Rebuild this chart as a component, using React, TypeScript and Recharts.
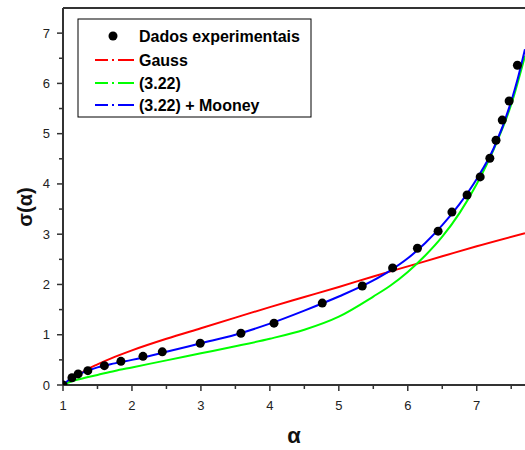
import React from 'react';
import { ComposedChart, Line, Scatter, XAxis, YAxis, ReferenceLine } from 'recharts';

// Experimental data (alpha, sigma)
const expAlpha = [1, 1.13, 1.22, 1.36, 1.6, 1.84, 2.16, 2.44, 2.99, 3.58, 4.06, 4.76, 5.34, 5.78, 6.14, 6.44, 6.64, 6.86, 7.05, 7.19, 7.28, 7.37, 7.47, 7.59];
const expSigma = [0, 0.145, 0.22, 0.285, 0.385, 0.47, 0.57, 0.66, 0.83, 1.03, 1.23, 1.63, 1.97, 2.33, 2.72, 3.06, 3.44, 3.78, 4.14, 4.51, 4.87, 5.27, 5.65, 6.36];

// Gauss curve
const gaussAlpha = [1, 1.1, 1.2, 1.35, 1.5, 1.75, 2, 2.5, 3, 3.5, 4, 4.5, 5, 5.5, 6, 6.5, 7, 7.7];
const gaussSigma = [0, 0.09, 0.18, 0.31, 0.41, 0.56, 0.69, 0.92, 1.13, 1.34, 1.55, 1.75, 1.95, 2.16, 2.36, 2.56, 2.76, 3.02];

// (3.22) curve
const eqAlpha = [1, 1.1, 1.25, 1.5, 1.75, 2, 2.5, 3, 3.5, 4, 4.5, 5, 5.5, 5.75, 6, 6.25, 6.5, 6.75, 7, 7.25, 7.5, 7.7];
const eqSigma = [0, 0.06, 0.12, 0.2, 0.28, 0.35, 0.49, 0.63, 0.77, 0.92, 1.1, 1.36, 1.76, 1.98, 2.25, 2.57, 2.95, 3.42, 4.0, 4.7, 5.58, 6.55];

// (3.22) + Mooney curve
const mooAlpha = [1, 1.1, 1.2, 1.35, 1.5, 1.75, 2, 2.5, 3, 3.5, 4, 4.5, 5, 5.5, 5.75, 6, 6.25, 6.5, 6.75, 7, 7.25, 7.5, 7.6, 7.7];
const mooSigma = [0, 0.12, 0.2, 0.28, 0.35, 0.43, 0.5, 0.66, 0.83, 1.0, 1.22, 1.48, 1.76, 2.08, 2.28, 2.52, 2.82, 3.18, 3.6, 4.1, 4.72, 5.64, 6.12, 6.68];

const xTicks = [1, 1.5, 2, 2.5, 3, 3.5, 4, 4.5, 5, 5.5, 6, 6.5, 7, 7.5];
const yTicks = [0, 0.5, 1, 1.5, 2, 2.5, 3, 3.5, 4, 4.5, 5, 5.5, 6, 6.5, 7];

const legendLabels = ['Dados experimentais', 'Gauss', '(3.22)', '(3.22) + Mooney'];
const legendColors = ['#000000', '#ff0000', '#00ff00', '#0000ff'];

const zip = (a: number[], b: number[]) => a.map((x, i) => ({ x, y: b[i] }));
const expData = zip(expAlpha, expSigma);
const gaussData = zip(gaussAlpha, gaussSigma);
const eqData = zip(eqAlpha, eqSigma);
const mooData = zip(mooAlpha, mooSigma);

const FONT = 'Liberation Sans, Arial, sans-serif';

const XTick = (props: any) => {
  const { x, y, payload } = props;
  const v = payload.value;
  const major = Number.isInteger(v);
  return (
    <g>
      <line x1={x} x2={x} y1={y} y2={y + (major ? 6 : 4)} stroke="#333" strokeWidth={1.5} />
      {major && (
        <text x={x} y={y + 25} textAnchor="middle" fontSize={13} fill="#222" fontFamily={FONT}>
          {v}
        </text>
      )}
    </g>
  );
};

const YTick = (props: any) => {
  const { x, y, payload } = props;
  const v = payload.value;
  const major = Number.isInteger(v);
  return (
    <g>
      <line x1={x - (major ? 6 : 4)} x2={x} y1={y} y2={y} stroke="#333" strokeWidth={1.5} />
      {major && (
        <text x={x - 13} y={y + 4.5} textAnchor="end" fontSize={13} fill="#222" fontFamily={FONT}>
          {v}
        </text>
      )}
    </g>
  );
};

const LegendBox = () => {
  const left = 78;
  const top = 19;
  const rowY = [36, 60, 83, 105];
  return (
    <g>
      <rect x={left} y={top} width={233} height={98} fill="#fff" stroke="#000" strokeWidth={1} />
      {legendLabels.map((lab, i) => (
        <g key={lab}>
          {i === 0 ? (
            <circle cx={113} cy={rowY[i]} r={4.5} fill={legendColors[i]} />
          ) : (
            <line x1={95} x2={134} y1={rowY[i]} y2={rowY[i]} stroke={legendColors[i]} strokeWidth={2} strokeDasharray="13 4 2 4 16" />
          )}
          <text x={139} y={rowY[i] + 6} fontSize={16} fontWeight="bold" fill="#000" fontFamily={FONT}>
            {lab}
          </text>
        </g>
      ))}
    </g>
  );
};

export default function App() {
  return (
    <div style={{ position: 'absolute', left: 0, top: 0, width: 525, height: 450, background: '#fff' }}>
      <ComposedChart width={525} height={450} margin={{ top: 8, right: 0, bottom: 0, left: 8 }}>
        <XAxis
          dataKey="x"
          type="number"
          domain={[1, 7.7]}
          ticks={xTicks}
          allowDataOverflow
          height={65}
          tickSize={0}
          tickMargin={0}
          tickLine={false}
          tick={<XTick />}
          axisLine={{ stroke: '#333', strokeWidth: 2 }}
          interval={0}
          label={{
            content: () => (
              <text x={294} y={443} textAnchor="middle" fontSize={22} fontWeight="bold" fill="#111" fontFamily={FONT}>
                α
              </text>
            ),
          }}
        />
        <YAxis
          dataKey="y"
          type="number"
          domain={[0, 7.5]}
          ticks={yTicks}
          allowDataOverflow
          width={55}
          tickSize={0}
          tickMargin={0}
          tickLine={false}
          tick={<YTick />}
          axisLine={{ stroke: '#333', strokeWidth: 2 }}
          interval={0}
          label={{
            content: () => (
              <text
                x={32}
                y={207}
                textAnchor="middle"
                fontSize={20}
                fontWeight="bold"
                fill="#111"
                fontFamily={FONT}
                transform="rotate(-90 32 207)"
              >
                σ(α)
              </text>
            ),
          }}
        />
        <ReferenceLine y={7.5} stroke="#333" strokeWidth={2} />
        <Line data={gaussData} dataKey="y" type="monotone" stroke="#ff0000" strokeWidth={2} dot={false} isAnimationActive={false} />
        <Line data={eqData} dataKey="y" type="monotone" stroke="#00ff00" strokeWidth={2} dot={false} isAnimationActive={false} />
        <Line data={mooData} dataKey="y" type="monotone" stroke="#0000ff" strokeWidth={2} dot={false} isAnimationActive={false} />
        <Scatter data={expData} dataKey="y" fill="#000" isAnimationActive={false} shape={(p: any) => <circle cx={p.cx} cy={p.cy} r={4.5} fill="#000" />} />
        <LegendBox />
      </ComposedChart>
    </div>
  );
}
